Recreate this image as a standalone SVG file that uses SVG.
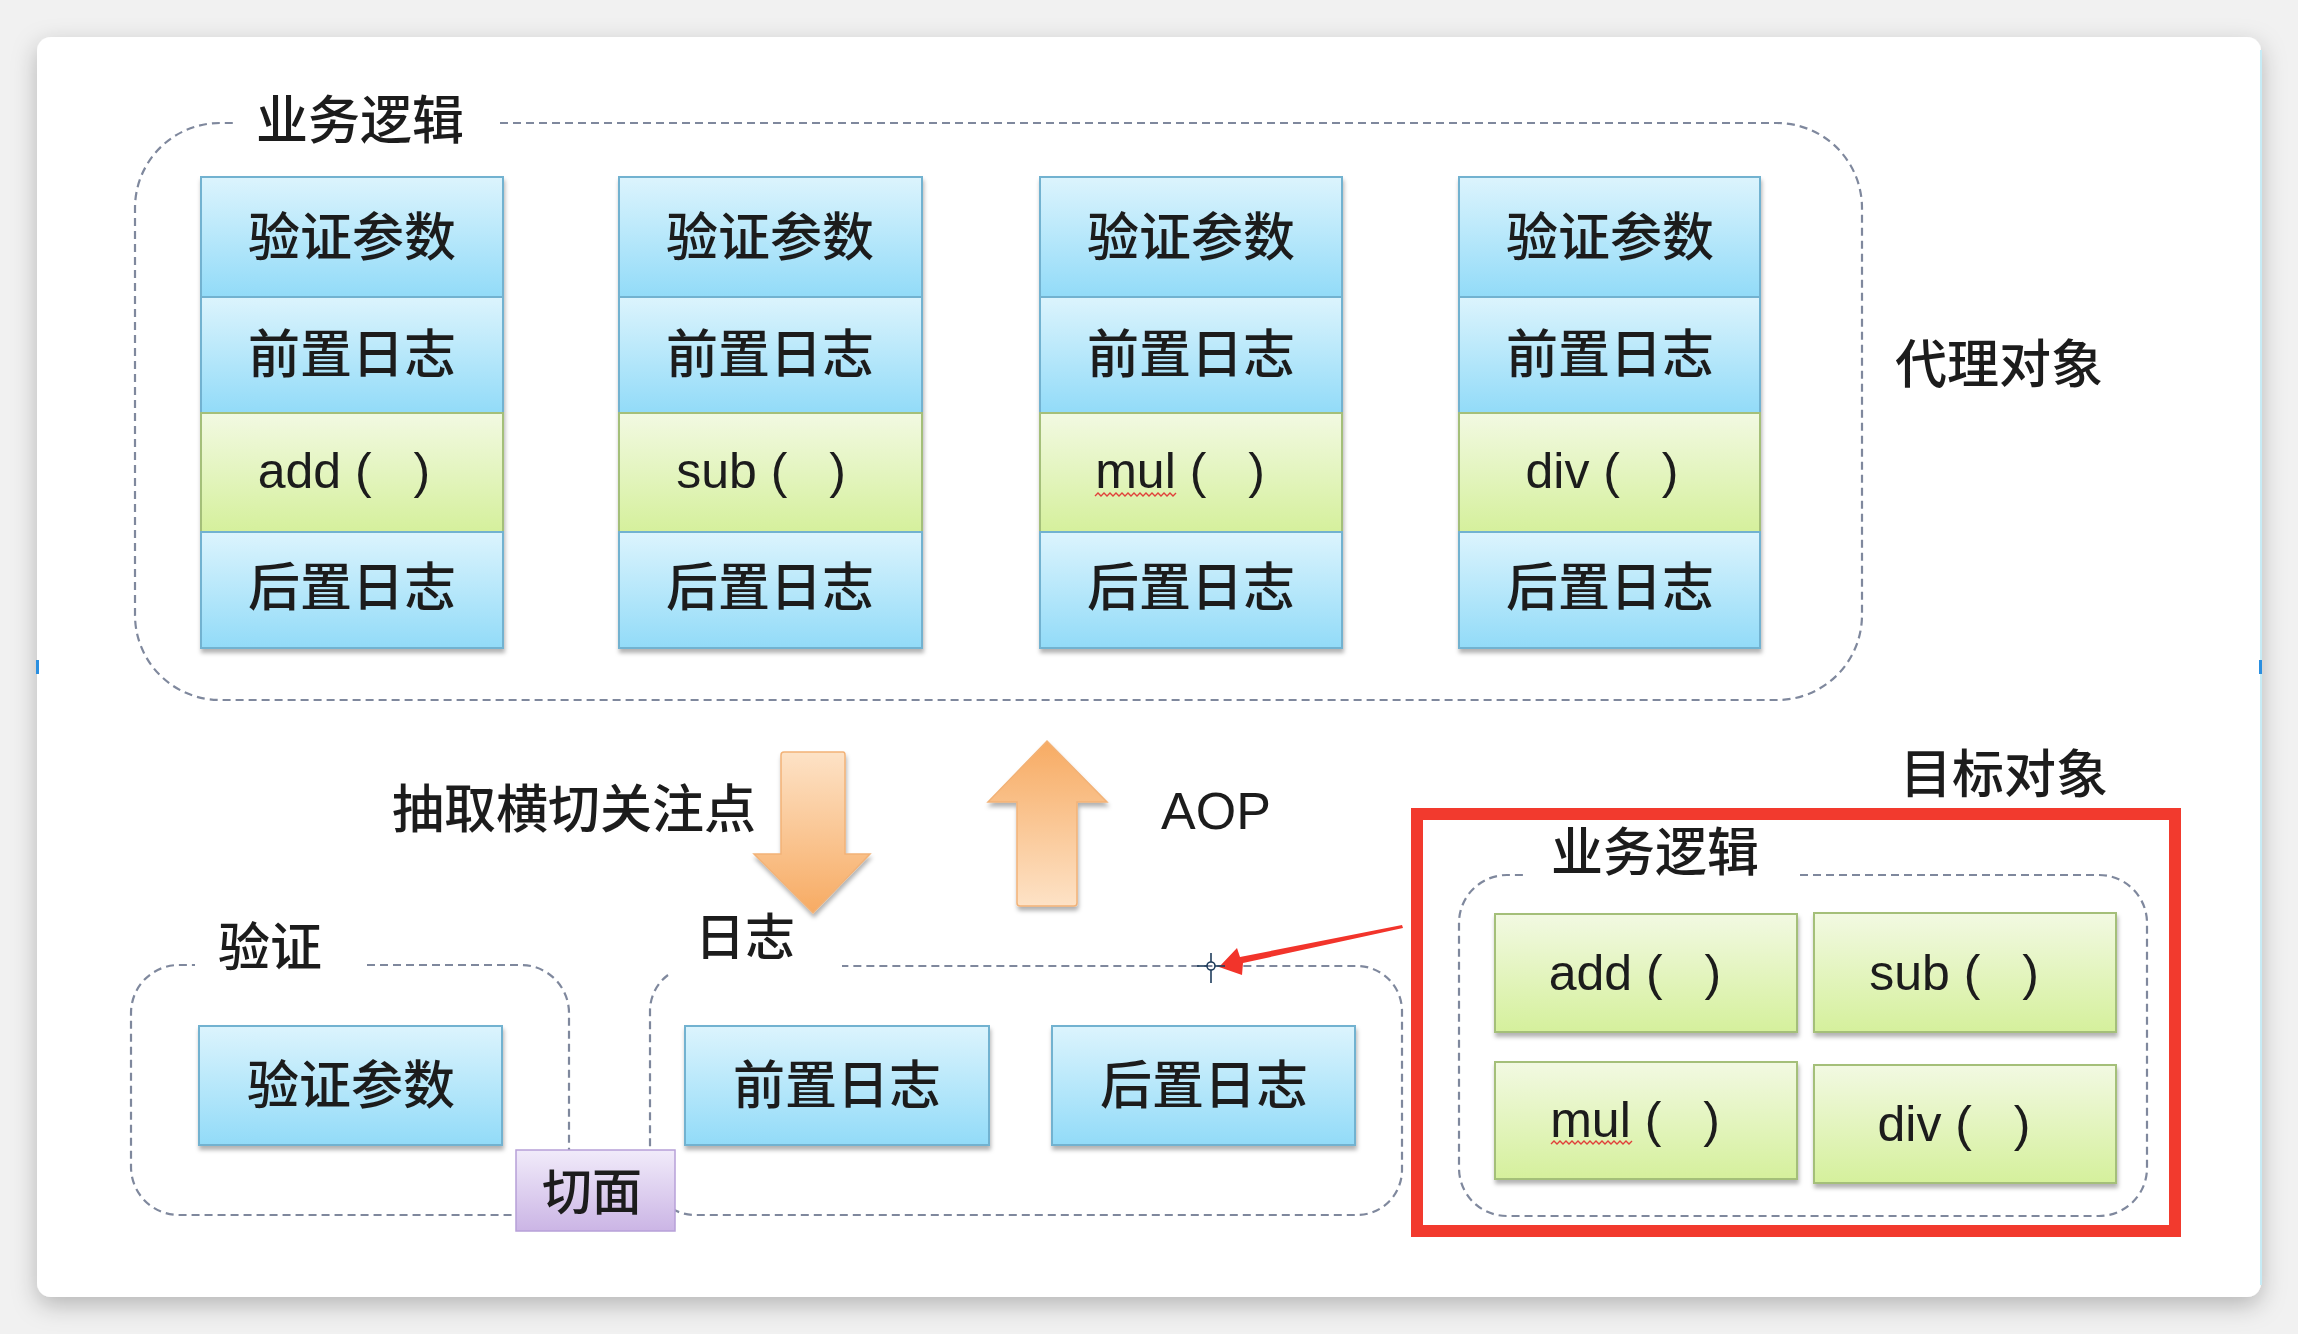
<svg xmlns="http://www.w3.org/2000/svg" width="2298" height="1334" viewBox="0 0 2298 1334">
<defs>
<style>
.cn{font-family:"Noto Sans CJK SC","Noto Sans",sans-serif;font-size:52px;font-weight:500;fill:#1c1c1c}
.mid{text-anchor:middle}
.lat{font-family:"Liberation Sans","Noto Sans CJK SC",sans-serif;font-size:50px;fill:#1c1c1c;text-anchor:middle}
.blue{fill:url(#gBlue);stroke:#72b2d0;stroke-width:2}
.green{fill:url(#gGreen);stroke:#a4bf79;stroke-width:2}
.dash{fill:none;stroke:#7f889d;stroke-width:2.2;stroke-dasharray:8 5}
.squig{fill:none;stroke:#e0403a;stroke-width:1.4}
</style>
<linearGradient id="gBlue" x1="0" y1="0" x2="0" y2="1">
<stop offset="0" stop-color="#dcf4fd"/><stop offset="1" stop-color="#92dbf8"/>
</linearGradient>
<linearGradient id="gGreen" x1="0" y1="0" x2="0" y2="1">
<stop offset="0" stop-color="#f2f9e2"/><stop offset="1" stop-color="#d5f09c"/>
</linearGradient>
<linearGradient id="gPurple" x1="0" y1="0" x2="0" y2="1">
<stop offset="0" stop-color="#f1ebfa"/><stop offset="1" stop-color="#cbb5e5"/>
</linearGradient>
<linearGradient id="gDown" x1="0" y1="0" x2="0" y2="1">
<stop offset="0" stop-color="#fde2c6"/><stop offset="1" stop-color="#f7ab63"/>
</linearGradient>
<linearGradient id="gUp" x1="0" y1="0" x2="0" y2="1">
<stop offset="0" stop-color="#f7ab63"/><stop offset="1" stop-color="#fde2c6"/>
</linearGradient>
<filter id="sh" x="-10%" y="-10%" width="125%" height="130%">
<feDropShadow dx="1" dy="4" stdDeviation="2" flood-color="#000" flood-opacity="0.3"/>
</filter>
<filter id="cardsh" x="-5%" y="-5%" width="110%" height="115%">
<feDropShadow dx="0" dy="8" stdDeviation="12" flood-color="#000" flood-opacity="0.25"/>
</filter>
</defs>

<rect x="0" y="0" width="2298" height="1334" fill="#f1f1f1"/>
<rect id="card" x="37" y="37" width="2224" height="1260" rx="14" fill="#ffffff" filter="url(#cardsh)"/>
<line x1="2261" y1="50" x2="2261" y2="1285" stroke="#c6ecf6" stroke-width="2"/>
<rect x="36" y="660" width="3" height="14" fill="#2a8fe0"/>
<rect x="2259" y="660" width="3" height="14" fill="#2a8fe0"/>

<!-- containers -->
<g id="containers">
<path class="dash" d="M500 123 H1777 A85 85 0 0 1 1862 208 V615 A85 85 0 0 1 1777 700 H220 A85 85 0 0 1 135 615 V208 A85 85 0 0 1 220 123 H233"/>
<text class="cn" x="256" y="139">业务逻辑</text>
<path class="dash" d="M367 965 H521 A48 48 0 0 1 569 1013 V1167 A48 48 0 0 1 521 1215 H179 A48 48 0 0 1 131 1167 V1013 A48 48 0 0 1 179 965 H195"/>
<text class="cn" x="218" y="966">验证</text>
<path class="dash" d="M668 975 A45 45 0 0 0 650 1011 V1170 A45 45 0 0 0 695 1215 H1357 A45 45 0 0 0 1402 1170 V1011 A45 45 0 0 0 1357 966 H842"/>
<text class="cn" x="695" y="955" style="font-size:50px">日志</text>
<path class="dash" d="M1800 875 H2099 A48 48 0 0 1 2147 923 V1168 A48 48 0 0 1 2099 1216 H1507 A48 48 0 0 1 1459 1168 V923 A48 48 0 0 1 1507 875 H1526"/>
<text class="cn" x="1551" y="871">业务逻辑</text>
</g>

<!-- proxy columns -->
<g id="proxy-add" filter="url(#sh)">
<rect class="blue" x="201" y="177" width="302" height="120"/>
<rect class="blue" x="201" y="297" width="302" height="116"/>
<rect class="green" x="201" y="413" width="302" height="119"/>
<rect class="blue" x="201" y="532" width="302" height="116"/>
</g>
<g id="proxy-add-text">
<text class="cn mid" x="352" y="256">验证参数</text>
<text class="cn mid" x="352" y="373">前置日志</text>
<text class="lat" x="344" y="488">add (<tspan dx="28"> )</tspan></text>
<text class="cn mid" x="352" y="606">后置日志</text>
</g>

<g id="proxy-sub" filter="url(#sh)">
<rect class="blue" x="619" y="177" width="303" height="120"/>
<rect class="blue" x="619" y="297" width="303" height="116"/>
<rect class="green" x="619" y="413" width="303" height="119"/>
<rect class="blue" x="619" y="532" width="303" height="116"/>
</g>
<g id="proxy-sub-text">
<text class="cn mid" x="770" y="256">验证参数</text>
<text class="cn mid" x="770" y="373">前置日志</text>
<text class="lat" x="761" y="488">sub (<tspan dx="28"> )</tspan></text>
<text class="cn mid" x="770" y="606">后置日志</text>
</g>

<g id="proxy-mul" filter="url(#sh)">
<rect class="blue" x="1040" y="177" width="302" height="120"/>
<rect class="blue" x="1040" y="297" width="302" height="116"/>
<rect class="green" x="1040" y="413" width="302" height="119"/>
<rect class="blue" x="1040" y="532" width="302" height="116"/>
</g>
<g id="proxy-mul-text">
<text class="cn mid" x="1191" y="256">验证参数</text>
<text class="cn mid" x="1191" y="373">前置日志</text>
<text class="lat" x="1180" y="488">mul (<tspan dx="28"> )</tspan></text>
<path class="squig" d="M1095 496 l3 -3 l3 3 l3 -3 l3 3 l3 -3 l3 3 l3 -3 l3 3 l3 -3 l3 3 l3 -3 l3 3 l3 -3 l3 3 l3 -3 l3 3 l3 -3 l3 3 l3 -3 l3 3 l3 -3 l3 3 l3 -3 l3 3 l3 -3 l3 3 l3 -3"/>
<text class="cn mid" x="1191" y="606">后置日志</text>
</g>

<g id="proxy-div" filter="url(#sh)">
<rect class="blue" x="1459" y="177" width="301" height="120"/>
<rect class="blue" x="1459" y="297" width="301" height="116"/>
<rect class="green" x="1459" y="413" width="301" height="119"/>
<rect class="blue" x="1459" y="532" width="301" height="116"/>
</g>
<g id="proxy-div-text">
<text class="cn mid" x="1610" y="256">验证参数</text>
<text class="cn mid" x="1610" y="373">前置日志</text>
<text class="lat" x="1602" y="488">div (<tspan dx="28"> )</tspan></text>
<text class="cn mid" x="1610" y="606">后置日志</text>
</g>

<g id="label-proxy"><text class="cn" x="1895" y="383">代理对象</text></g>
<g id="label-target"><text class="cn" x="1900" y="793">目标对象</text></g>
<g id="label-extract"><text class="cn" x="392" y="828">抽取横切关注点</text></g>
<g id="label-aop"><text class="lat" x="1216" y="829" style="font-size:52px">AOP</text></g>

<!-- aspect modules -->
<g id="aspect-validate" filter="url(#sh)">
<rect class="blue" x="199" y="1026" width="303" height="119"/>
</g>
<text class="cn mid" x="351" y="1104">验证参数</text>
<g id="aspect-before" filter="url(#sh)">
<rect class="blue" x="685" y="1026" width="304" height="119"/>
</g>
<text class="cn mid" x="837" y="1104">前置日志</text>
<g id="aspect-after" filter="url(#sh)">
<rect class="blue" x="1052" y="1026" width="303" height="119"/>
</g>
<text class="cn mid" x="1204" y="1104">后置日志</text>

<g id="aspect-label">
<rect x="516" y="1150" width="159" height="81" fill="url(#gPurple)" stroke="#b7a0d8" stroke-width="1.5"/>
<text class="cn mid" x="592" y="1210" style="font-size:50px">切面</text>
</g>

<!-- target object -->
<g id="target-box">
<rect x="1417" y="814" width="758" height="417" fill="none" stroke="#f23a2e" stroke-width="12"/>
</g>
<g id="target-add" filter="url(#sh)"><rect class="green" x="1495" y="914" width="302" height="118"/></g>
<text class="lat" x="1635" y="990">add (<tspan dx="28"> )</tspan></text>
<g id="target-sub" filter="url(#sh)"><rect class="green" x="1814" y="913" width="302" height="119"/></g>
<text class="lat" x="1954" y="990">sub (<tspan dx="28"> )</tspan></text>
<g id="target-mul" filter="url(#sh)"><rect class="green" x="1495" y="1062" width="302" height="117"/></g>
<text class="lat" x="1635" y="1137">mul (<tspan dx="28"> )</tspan></text>
<path class="squig" d="M1551 1144 l3 -3 l3 3 l3 -3 l3 3 l3 -3 l3 3 l3 -3 l3 3 l3 -3 l3 3 l3 -3 l3 3 l3 -3 l3 3 l3 -3 l3 3 l3 -3 l3 3 l3 -3 l3 3 l3 -3 l3 3 l3 -3 l3 3 l3 -3 l3 3 l3 -3"/>
<g id="target-div" filter="url(#sh)"><rect class="green" x="1814" y="1065" width="302" height="118"/></g>
<text class="lat" x="1954" y="1141">div (<tspan dx="28"> )</tspan></text>

<!-- connectors -->
<g id="connectors">
<path filter="url(#sh)" d="M784 752 H843 Q845 752 845 755 V854 H870 L813 913 L754 854 H781 V755 Q781 752 784 752 Z" fill="url(#gDown)" stroke="#f2b277" stroke-width="1.5"/>
<path filter="url(#sh)" d="M1047 741 L1107 802 H1077 V903 Q1077 906 1074 906 H1020 Q1017 906 1017 903 V802 H988 Z" fill="url(#gUp)" stroke="#f2b277" stroke-width="1.5"/>
<path d="M1219 967 L1237 948 L1240 957 L1402 925 L1403 928 L1243 963 L1242 975 Z" fill="#f2342b"/>
<g fill="none" stroke="#1f3d5c" stroke-width="1.6">
<circle cx="1211" cy="966" r="4"/>
<line x1="1197" y1="966" x2="1207" y2="966"/>
<line x1="1215" y1="966" x2="1225" y2="966"/>
<line x1="1211" y1="953" x2="1211" y2="962"/>
<line x1="1211" y1="970" x2="1211" y2="983"/>
</g>
</g>
</svg>
